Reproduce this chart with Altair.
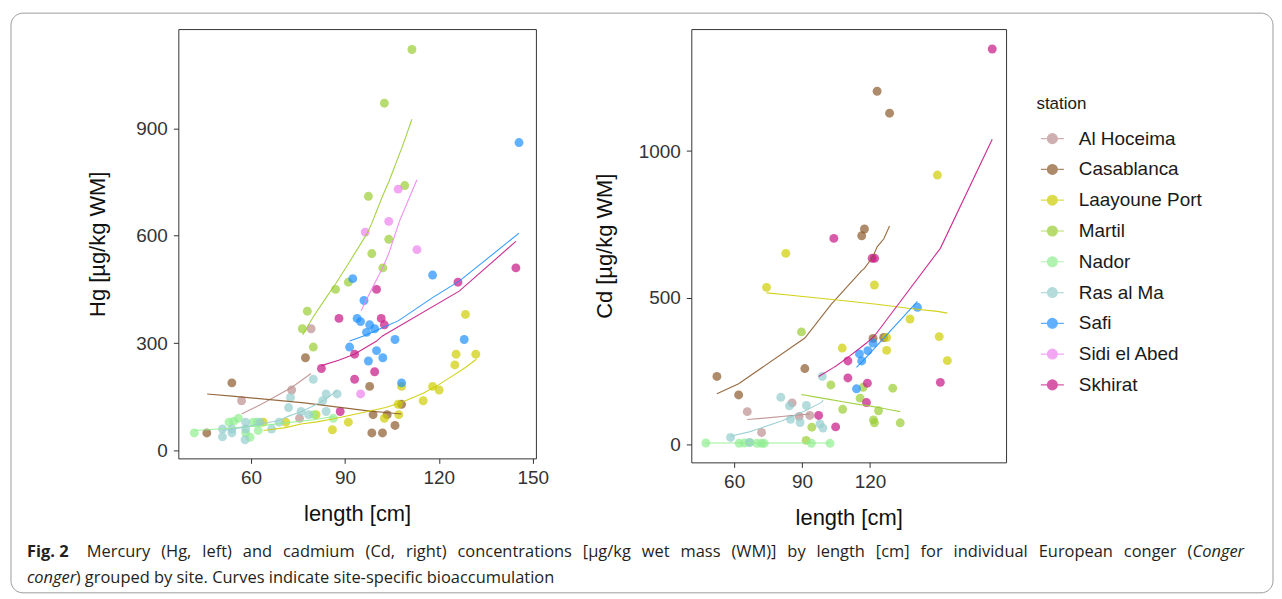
import altair as alt
import pandas as pd

STATIONS = ["Al Hoceima", "Casablanca", "Laayoune Port", "Martil", "Nador",
            "Ras al Ma", "Safi", "Sidi el Abed", "Skhirat"]
COLORS = ["#BC8F8F", "#8B5A2B", "#CDCD00", "#9ACD32", "#90EE90",
          "#96CDCD", "#1E90FF", "#EE82EE", "#C71585"]

# Hg [µg/kg WM] vs length [cm]
HG_POINTS = {
    "Al Hoceima": [(57, 139), (73, 169), (75.5, 90), (79.2, 340)],
    "Casablanca": [(45.9, 49), (53.9, 189), (77.4, 259), (97.9, 179), (99, 100), (103.5, 100),
                   (98.6, 49), (102, 49), (106, 70), (108.1, 129)],
    "Laayoune Port": [(63.9, 79), (71.1, 79), (80.8, 100), (86, 58), (91.1, 79), (102.6, 90),
                      (107.2, 100), (107, 129), (108.1, 179), (115, 139), (118, 179), (120.1, 169),
                      (125.1, 239), (125.5, 269), (128.5, 380), (131.8, 269)],
    "Martil": [(76.4, 340), (78, 389), (79.9, 289), (87, 450), (91.1, 470), (97.5, 710),
               (98.6, 550), (102.1, 510), (102.6, 970), (104, 590), (109.1, 740), (111.4, 1120)],
    "Nador": [(41.9, 49), (53, 79), (54.5, 82), (56, 90), (58.3, 49), (59.7, 37), (60.7, 79),
              (62, 79), (62.3, 56), (80, 100), (86.3, 90)],
    "Ras al Ma": [(50.9, 60), (50.9, 38), (53.9, 60), (53.9, 49), (58.3, 79), (58.3, 60),
                  (58.1, 30), (62.9, 79), (66.6, 60), (69, 79), (72, 120), (72.6, 148), (76, 109),
                  (78.4, 100), (79.9, 199), (82.9, 139), (84, 158), (84, 109), (87.5, 158)],
    "Safi": [(91.5, 289), (92.5, 480), (93.9, 369), (95, 360), (96.1, 419), (96.9, 330),
             (97.5, 250), (97.9, 351), (99.5, 340), (100.1, 279), (102.1, 259), (106, 310),
             (108.1, 189), (118, 490), (128.1, 310), (145.6, 860)],
    "Sidi el Abed": [(95, 158), (96.5, 610), (104, 640), (107, 730), (113, 561)],
    "Skhirat": [(82.5, 229), (88.1, 369), (88.5, 109), (93.1, 269), (93.1, 199), (99.5, 220),
                (100.1, 450), (101.6, 369), (102.6, 351), (126.1, 470), (144.6, 510)],
}
HG_CURVES = {
    "Al Hoceima": [(57, 102), (63, 128), (73, 176), (79.2, 215)],
    "Casablanca": [(46, 158), (54, 152), (77, 133), (98, 110), (103, 106), (108, 102)],
    "Laayoune Port": [(64, 56), (71, 64), (76, 74), (81, 80), (86, 88), (91, 97), (103, 120),
                      (108, 134), (115, 160), (120, 184), (125, 212), (128.5, 232), (132, 255)],
    "Martil": [(76.5, 323), (78, 345), (80, 375), (84, 427), (87, 465), (91, 520), (97, 605),
               (98.6, 635), (102, 710), (104, 750), (108.5, 853), (111.4, 925)],
    "Nador": [(42, 56), (53, 62), (56, 64), (60, 67), (62, 68), (80, 86), (86.3, 95)],
    "Ras al Ma": [(51, 56), (54, 60), (58, 66), (63, 74), (69, 84), (72, 96), (76, 108),
                  (80, 125), (84, 144), (87.5, 168)],
    "Safi": [(91.5, 306), (96, 320), (100, 335), (107, 362), (118, 427), (126.5, 473),
             (134.5, 529), (145.6, 607)],
    "Sidi el Abed": [(95.2, 390), (96.5, 415), (102, 510), (104, 550), (107.4, 640), (113, 756)],
    "Skhirat": [(82.5, 237), (88, 252), (93, 269), (100, 305), (102, 320), (126.5, 445),
                (144.6, 584)],
}

# Cd [µg/kg WM] vs length [cm]
CD_POINTS = {
    "Al Hoceima": [(65.8, 111), (72.1, 40), (85.6, 141), (88.7, 95), (93.4, 98)],
    "Casablanca": [(52.4, 231), (62, 168), (91.2, 258), (116.3, 711), (117.5, 734), (121.3, 361),
                   (123.1, 1204), (126, 364), (128.6, 1129)],
    "Laayoune Port": [(74.3, 535), (82.8, 651), (107.7, 328), (121.9, 543), (127.3, 364),
                      (127.3, 320), (137.6, 427), (149.7, 918), (150.5, 367), (154.1, 285)],
    "Martil": [(89.7, 383), (91.8, 13), (94.3, 58), (102.7, 202), (107.9, 119), (115.6, 157),
               (116.9, 194), (121.5, 83), (121.9, 73), (123.7, 114), (130, 191), (133.3, 73)],
    "Nador": [(47.5, 4), (62.2, 3), (64.5, 4), (67, 6), (70.1, 3), (72.1, 3), (73.3, 3),
              (94.1, 3), (102.3, 3)],
    "Ras al Ma": [(58.4, 23), (66.7, 6), (80.6, 160), (84.4, 131), (84.9, 85), (89.1, 74),
                  (91.9, 132), (97.9, 69), (98.9, 231), (99.2, 55)],
    "Safi": [(114, 189), (115.3, 308), (116.3, 284), (119, 319), (121.3, 345), (140.9, 467)],
    "Skhirat": [(97.3, 98), (104, 702), (104.8, 59), (110.2, 284), (110.2, 226), (118.4, 142),
                (118.8, 208), (120.9, 634), (122, 634), (151, 211), (173.9, 1348)],
}
CD_CURVES = {
    "Al Hoceima": [(65.8, 84), (72.1, 88), (85.6, 98), (88.7, 100), (93.4, 103)],
    "Casablanca": [(52.4, 172), (62, 206), (91.2, 362), (102.9, 478), (116.3, 592),
                   (117.5, 600), (121.3, 640), (123.1, 673), (126, 700), (128.6, 744)],
    "Laayoune Port": [(74.3, 516), (82.8, 510), (107.7, 490), (121.9, 478), (127.3, 473),
                      (137.6, 463), (149.7, 453), (154.1, 447)],
    "Martil": [(89.7, 169), (91.8, 167), (94.3, 163), (102.7, 152), (107.9, 145), (115.6, 135),
               (116.9, 134), (121.5, 128), (123.7, 125), (130, 116), (133.3, 111)],
    "Nador": [(47.5, 4), (62.2, 4), (64.5, 4), (67, 4), (70.1, 4), (72.1, 4), (73.3, 4),
              (94.1, 4), (102.3, 4)],
    "Ras al Ma": [(58.4, 27), (66.7, 42), (80.6, 78), (84.4, 90), (84.9, 92), (89.1, 106),
                  (91.9, 116), (97.9, 140), (98.9, 145), (99.2, 151)],
    "Safi": [(114, 262), (115.3, 272), (116.3, 280), (119, 302), (121.3, 322), (140.9, 487)],
    "Skhirat": [(97.3, 231), (104, 262), (104.8, 266), (110.2, 296), (118.4, 345), (118.8, 348),
                (120.9, 362), (122, 370), (151, 668), (173.9, 1040)],
}

HG_X_TICKS = [60, 90, 120, 150]
HG_Y_TICKS = [0, 300, 600, 900]
CD_X_TICKS = [60, 90, 120]
CD_Y_TICKS = [0, 500, 1000]

# caption (first line is justified in the original, hence the wider word spaces)
SP = "\u2004\u2004"
CAPTION_FIG = "Fig. 2"
CAPTION_LINE1 = SP.join(["Mercury", "(Hg,", "left)", "and", "cadmium", "(Cd,", "right)",
                         "concentrations", "[µg/kg", "wet", "mass", "(WM)]", "by", "length",
                         "[cm]", "for", "individual", "European", "conger", "("])
CAPTION_ITALIC1 = "Conger"
CAPTION_ITALIC2 = "conger"
CAPTION_LINE2 = ") grouped by site. Curves indicate site-specific bioaccumulation"


def to_frame(d):
    rows = [{"station": s, "length": x, "value": y} for s, pts in d.items() for x, y in pts]
    return pd.DataFrame(rows)


LEGEND_SYMBOL = "M-0.77,0L0.77,0M0.33,0A0.33,0.33,0,1,1,-0.33,0A0.33,0.33,0,1,1,0.33,0Z"
legend = alt.Legend(
    title="station", orient="none", legendX=861.5, legendY=67,
    symbolType=LEGEND_SYMBOL, symbolSize=900, symbolStrokeWidth=1.2,
    labelFont="Liberation Sans", labelFontSize=19, labelColor="#1a1a1a", labelOffset=10.5,
    titleFont="Liberation Sans", titleFontSize=17, titleFontWeight="normal", titleColor="#1a1a1a",
    titlePadding=10, rowPadding=4.9, padding=0,
)
color = alt.Color("station:N", scale=alt.Scale(domain=STATIONS, range=COLORS), legend=legend)


def panel(pts, curves, xdom, ydom, xticks, yticks, ytitle, w, h, ytp, extra):
    x = alt.X("length:Q", title="length [cm]",
              scale=alt.Scale(domain=xdom, nice=False, zero=False),
              axis=alt.Axis(values=xticks, format="d", labelPadding=5, titlePadding=16))
    y = alt.Y("value:Q", title=ytitle,
              scale=alt.Scale(domain=ydom, nice=False, zero=False),
              axis=alt.Axis(values=yticks, format="d", labelPadding=6, titlePadding=ytp))
    points = alt.Chart(to_frame(pts)).mark_circle(size=80, opacity=0.7).encode(
        x=x, y=y, color=color)
    lines = alt.Chart(to_frame(curves)).mark_line(strokeWidth=1.1, opacity=0.9).encode(
        x=x, y=y, color=color, order="length:Q")
    return alt.layer(points, lines, *extra).properties(width=w, height=h)


one = alt.Data(values=[{"k": 0}])
CAP_FONT = "Open Sans"
CAP_SIZE = 16.5
CAP_COLOR = "#231f20"


def cap(text, x, y, align="left", **kw):
    return alt.Chart(one).mark_text(
        text=text, font=CAP_FONT, fontSize=CAP_SIZE, color=CAP_COLOR,
        align=align, baseline="alphabetic", **kw
    ).encode(x=alt.value(x), y=alt.value(y))


frame_rect = alt.Chart(one).mark_rect(
    fillOpacity=0, stroke="#9a9a9a", strokeWidth=1, cornerRadius=12
).encode(x=alt.value(-168), x2=alt.value(1099), y=alt.value(-16), y2=alt.value(566))

extras = [
    frame_rect,
    cap(CAPTION_FIG, -152, 530, fontWeight="bold"),
    cap(CAPTION_LINE1, -92, 530),
    cap(CAPTION_ITALIC1, 1070, 530, align="right", fontStyle="italic"),
    cap(CAPTION_ITALIC2, -152, 556, fontStyle="italic"),
    cap(CAPTION_LINE2, -103, 556),
]

hg = panel(HG_POINTS, HG_CURVES, [36.8, 151], [-22, 1177], HG_X_TICKS, HG_Y_TICKS,
           "Hg [µg/kg WM]", 359, 431, 26, extras)
cd = panel(CD_POINTS, CD_CURVES, [41.1, 180], [-62, 1416], CD_X_TICKS, CD_Y_TICKS,
           "Cd [µg/kg WM]", 316, 435, 22, [])

chart = alt.hconcat(hg, cd, spacing=156, bounds="flush").properties(
    padding={"left": 2, "top": 3, "right": 0, "bottom": 0}, background="white"
).configure_view(
    stroke="#333333", strokeWidth=1
).configure_axis(
    grid=False, domain=False, tickColor="#333333", tickSize=5,
    labelFont="Liberation Sans", labelFontSize=19, labelColor="#333333",
    titleFont="Liberation Sans", titleFontSize=22, titleFontWeight="normal", titleColor="#111111",
)

chart.save("out.html", embed_options={"renderer": "svg", "actions": False})
